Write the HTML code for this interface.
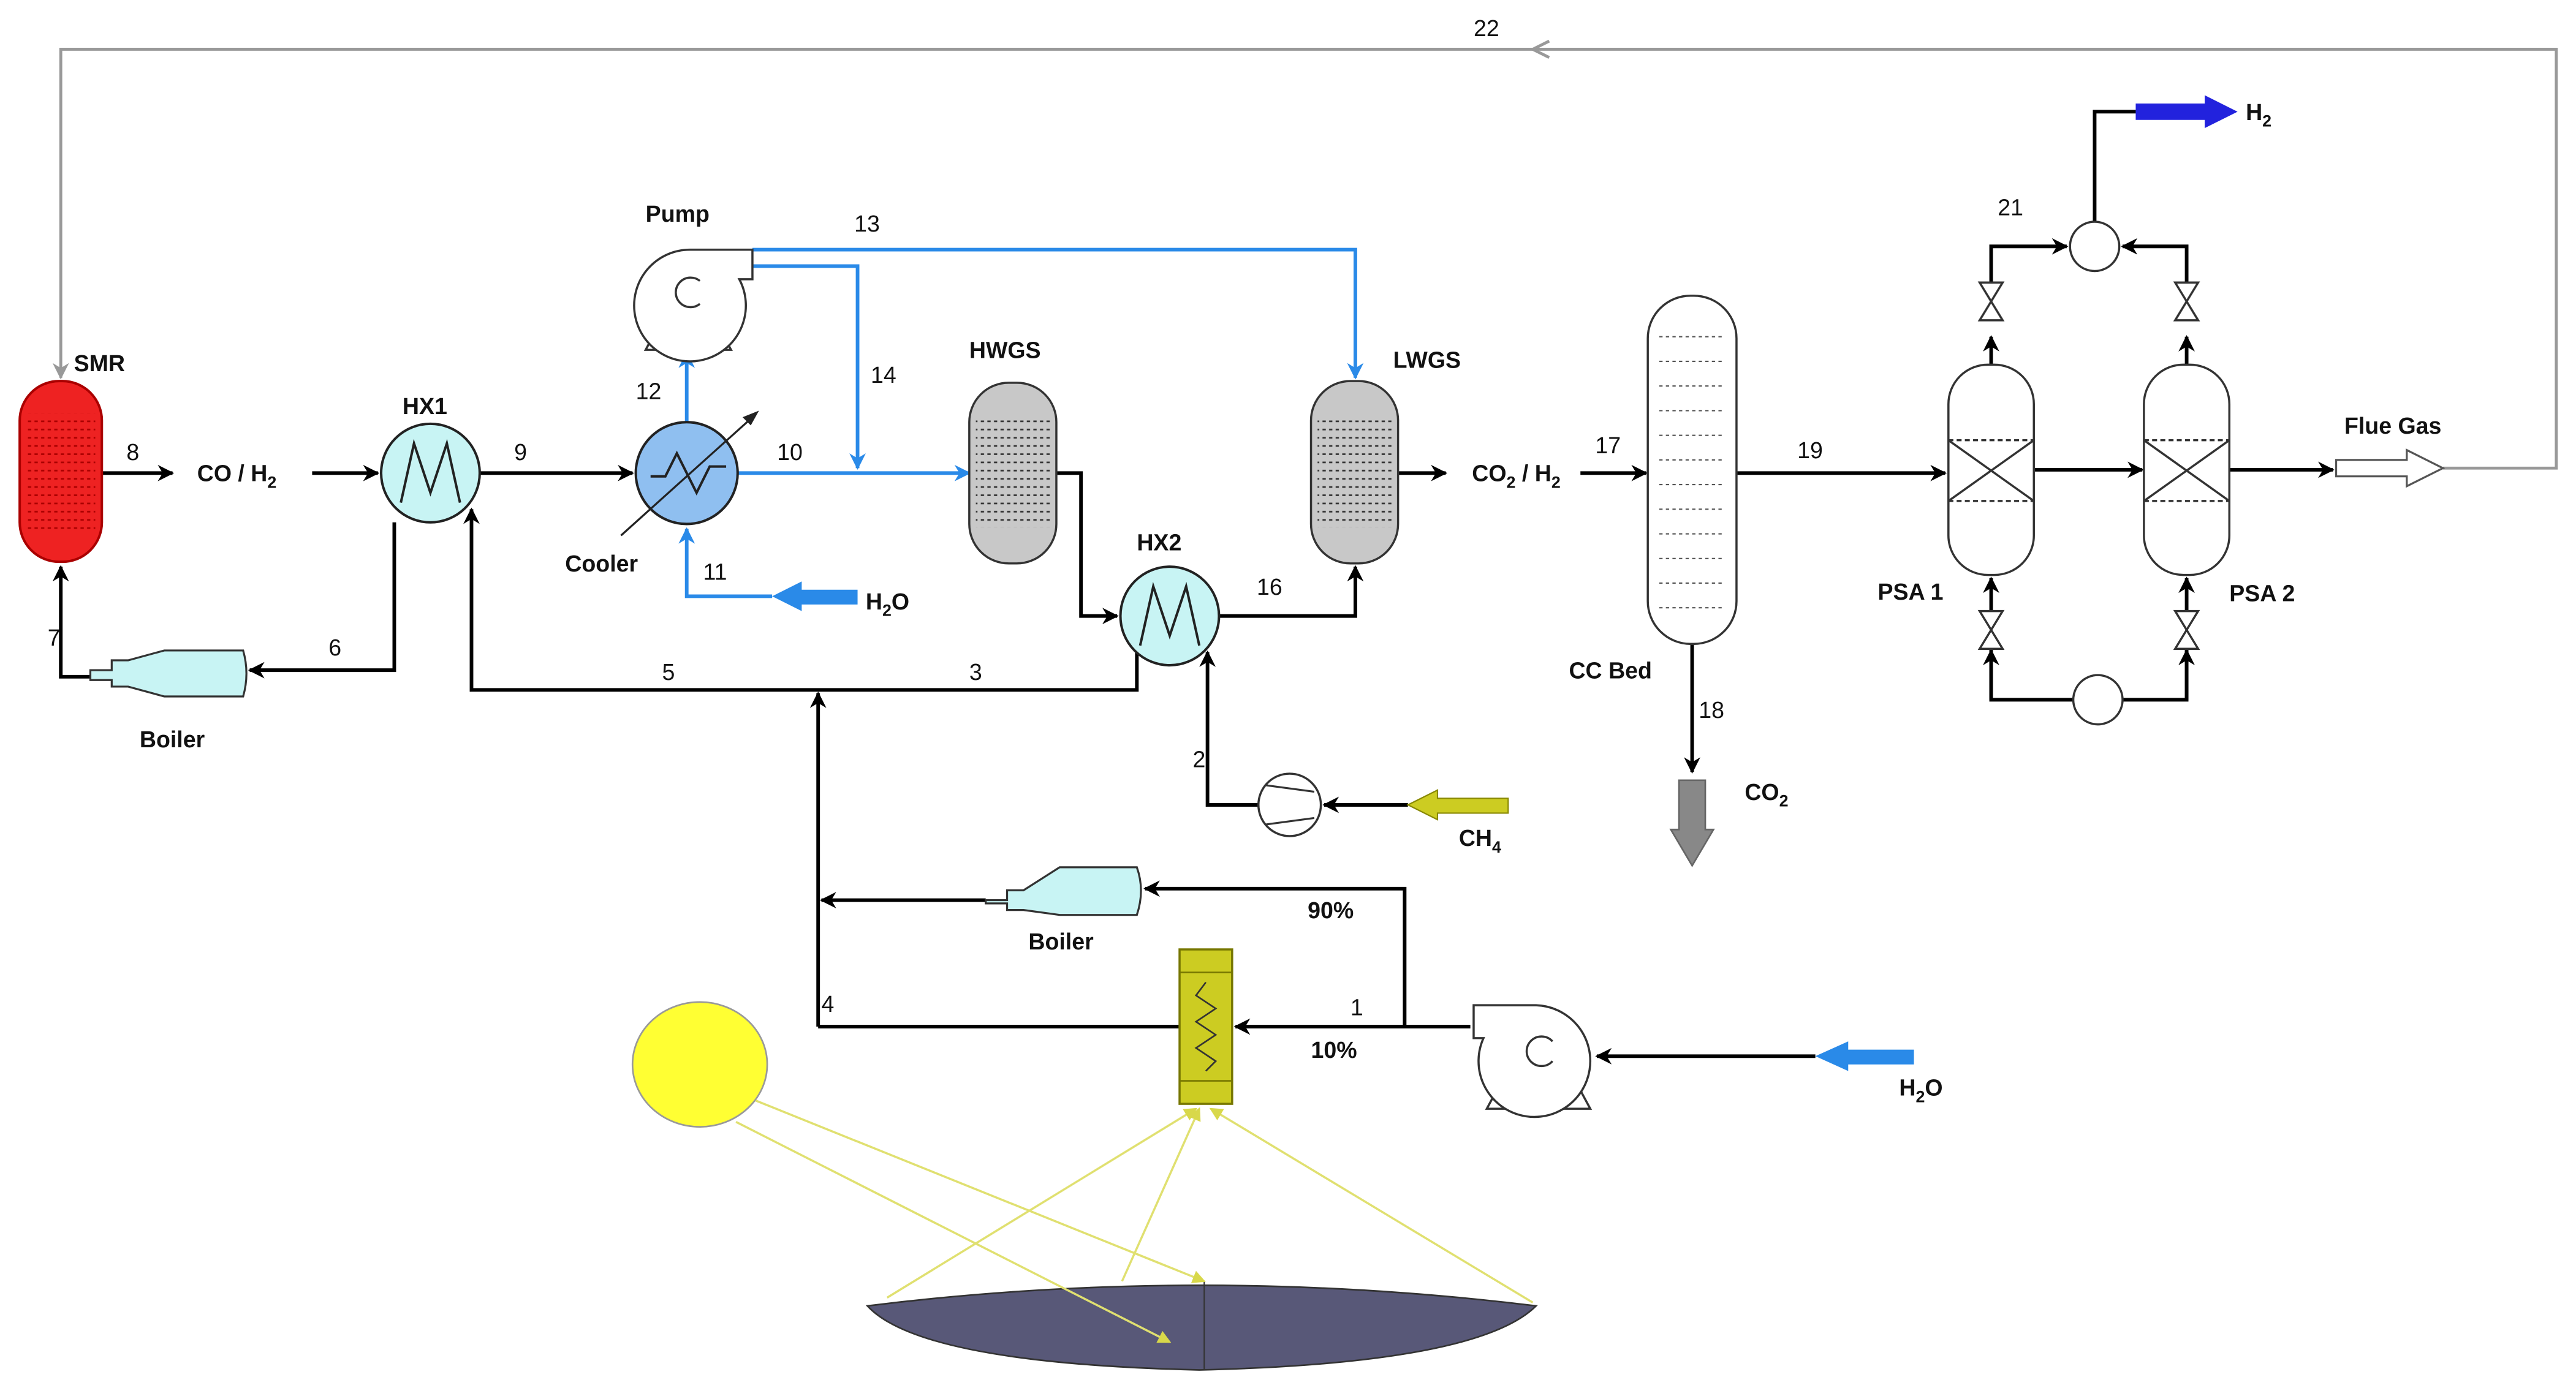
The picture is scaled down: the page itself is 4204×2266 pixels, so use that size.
<!DOCTYPE html>
<html><head><meta charset="utf-8"><style>
html,body{margin:0;padding:0;background:#fff;}
svg{display:block;}
text{font-family:"Liberation Sans",sans-serif;font-size:14px;fill:#111;}
.b{font-weight:bold;}
</style></head><body>
<svg width="4204" height="2266" viewBox="0 0 1568 845" preserveAspectRatio="none" xmlns="http://www.w3.org/2000/svg">
<defs>
<marker id="ak" markerWidth="10" markerHeight="10" refX="9" refY="5" orient="auto" markerUnits="userSpaceOnUse"><path d="M0,0 L10,5 L0,10 L3,5 z" fill="#000"/></marker>
<marker id="ab" markerWidth="10" markerHeight="10" refX="9" refY="5" orient="auto" markerUnits="userSpaceOnUse"><path d="M0,0 L10,5 L0,10 L3,5 z" fill="#2a8ae8"/></marker>
<marker id="ag" markerWidth="10" markerHeight="10" refX="9" refY="5" orient="auto" markerUnits="userSpaceOnUse"><path d="M0,0 L10,5 L0,10 L3,5 z" fill="#999"/></marker>
<marker id="ay" markerWidth="8" markerHeight="8" refX="7" refY="4" orient="auto" markerUnits="userSpaceOnUse"><path d="M0,0 L8,4 L0,8 z" fill="#d8d84a"/></marker>
<pattern id="dots" width="4" height="5" patternUnits="userSpaceOnUse"><rect x="1" y="1" width="2" height="1" fill="#333"/></pattern>
<pattern id="dotsr" width="4" height="5" patternUnits="userSpaceOnUse"><rect x="1" y="1" width="2" height="1" fill="#a00"/></pattern>
</defs>
<g fill="none" stroke-width="2.2">
<path d="M1487,285 H1556 V30 H37 V230" stroke="#999" stroke-width="1.8" marker-end="url(#ag)"/>
<path d="M943,25 L933,30 L943,35" stroke="#999" stroke-width="1.8"/>
<path d="M62,288 H105" stroke="#000" marker-end="url(#ak)"/>
<path d="M190,288 H230" stroke="#000" marker-end="url(#ak)"/>
<path d="M292,288 H385" stroke="#000" marker-end="url(#ak)"/>
<path d="M643,288 H658 V375 H680" stroke="#000" marker-end="url(#ak)"/>
<path d="M742,375 H825 V345" stroke="#000" marker-end="url(#ak)"/>
<path d="M851,288 H880" stroke="#000" marker-end="url(#ak)"/>
<path d="M962,288 H1002" stroke="#000" marker-end="url(#ak)"/>
<path d="M1057,288 H1184" stroke="#000" marker-end="url(#ak)"/>
<path d="M1238,286 H1304" stroke="#000" marker-end="url(#ak)"/>
<path d="M1357,286 H1420" stroke="#000" marker-end="url(#ak)"/>
<path d="M1030,392 V470" stroke="#000" marker-end="url(#ak)"/>
<path d="M240,318 V408 H152" stroke="#000" marker-end="url(#ak)"/>
<path d="M56,412 H37 V345" stroke="#000" marker-end="url(#ak)"/>
<path d="M692,392 V420 H287 V310" stroke="#000" marker-end="url(#ak)"/>
<path d="M498,625 V422" stroke="#000" marker-end="url(#ak)"/>
<path d="M600,548 H500" stroke="#000" marker-end="url(#ak)"/>
<path d="M855,625 V541 H697" stroke="#000" marker-end="url(#ak)"/>
<path d="M895,625 H752" stroke="#000" marker-end="url(#ak)"/>
<path d="M718,625 H498" stroke="#000"/>
<path d="M1105,643 H972" stroke="#000" marker-end="url(#ak)"/>
<path d="M857,490 H806" stroke="#000" marker-end="url(#ak)"/>
<path d="M766,490 H735 V397" stroke="#000" marker-end="url(#ak)"/>
<path d="M1212,222 V205" stroke="#000" marker-end="url(#ak)"/>
<path d="M1331,222 V205" stroke="#000" marker-end="url(#ak)"/>
<path d="M1212,172 V150 H1258" stroke="#000" marker-end="url(#ak)"/>
<path d="M1331,172 V150 H1292" stroke="#000" marker-end="url(#ak)"/>
<path d="M1275,135 V68 H1300" stroke="#000"/>
<path d="M1212,426 V396" stroke="#000" marker-end="url(#ak)"/>
<path d="M1331,426 V396" stroke="#000" marker-end="url(#ak)"/>
<path d="M1212,372 V352" stroke="#000" marker-end="url(#ak)"/>
<path d="M1331,372 V352" stroke="#000" marker-end="url(#ak)"/>
<path d="M1212,395 V426 H1331 V395" stroke="#000"/>
<path d="M449,288 H590" stroke="#2a8ae8" marker-end="url(#ab)"/>
<path d="M418,257 V215" stroke="#2a8ae8" marker-end="url(#ab)"/>
<path d="M458,152 H825 V230" stroke="#2a8ae8" marker-end="url(#ab)"/>
<path d="M458,162 H522 V285" stroke="#2a8ae8" marker-end="url(#ab)"/>
<path d="M470,363 H418 V322" stroke="#2a8ae8" marker-end="url(#ab)"/>
</g>
<path d="M470,363 L488,354 V359 H522 V368 H488 V372 Z" fill="#2a8ae8"/>
<path d="M1105,643 L1125,634 V639 H1165 V648 H1125 V652 Z" fill="#2a8ae8"/>
<path d="M857,490 L875,481 V486 H918 V495 H875 V499 Z" fill="#cccc22" stroke="#888800" stroke-width="0.8"/>
<path d="M1300,63 H1342 V58 L1362,68 L1342,78 V73 H1300 Z" fill="#2222dd"/>
<path d="M1422,280 H1465 V274 L1487,285 L1465,296 V290 H1422 Z" fill="#fff" stroke="#555" stroke-width="1.2"/>
<path d="M1022,475 H1038 V505 H1043 L1030,527 L1017,505 H1022 Z" fill="#888" stroke="#666"/>
<rect x="12" y="232" width="50" height="110" rx="24" fill="#ee2222" stroke="#a00" stroke-width="1.5"/>
<rect x="16" y="252" width="42" height="70" fill="url(#dotsr)"/>
<circle cx="262" cy="288" r="30" fill="#c8f4f4" stroke="#222" stroke-width="1.5"/>
<path d="M244,306 L252,270 L262,300 L272,270 L280,306" fill="none" stroke="#222" stroke-width="1.5"/>
<circle cx="712" cy="375" r="30" fill="#c8f4f4" stroke="#222" stroke-width="1.5"/>
<path d="M694,393 L702,357 L712,387 L722,357 L730,393" fill="none" stroke="#222" stroke-width="1.5"/>
<circle cx="418" cy="288" r="31" fill="#8fbff0" stroke="#222" stroke-width="1.5"/>
<path d="M396,290 H405 L412,276 L424,300 L432,284 H442" fill="none" stroke="#222" stroke-width="1.5"/>
<path d="M378,326 L458,254" stroke="#222" stroke-width="1.2"/>
<path d="M462,250 L452,254 L457,259 Z" fill="#222"/>
<g stroke="#333" stroke-width="1.3" fill="#fff">
<path d="M400,200 L393,213 H445 L438,200 Z"/>
<path d="M458,152 V170 H450 A34,34 0 1 1 420,152 Z"/>
<path d="M426,171 A9,9 0 1 0 426,185" fill="none"/>
</g>
<rect x="590" y="233" width="53" height="110" rx="24" fill="#c8c8c8" stroke="#333" stroke-width="1.3"/>
<rect x="594" y="255" width="45" height="66" fill="url(#dots)"/>
<rect x="798" y="232" width="53" height="111" rx="24" fill="#c8c8c8" stroke="#333" stroke-width="1.3"/>
<rect x="802" y="254" width="45" height="67" fill="url(#dots)"/>
<rect x="1003" y="180" width="54" height="212" rx="26" fill="#fff" stroke="#333" stroke-width="1.3"/>
<g stroke="#555" stroke-width="0.8" stroke-dasharray="2,2" fill="none">
<path d="M1010,205 H1050 M1010,220 H1050 M1010,235 H1050 M1010,250 H1050 M1010,265 H1050 M1010,280 H1050 M1010,295 H1050 M1010,310 H1050 M1010,325 H1050 M1010,340 H1050 M1010,355 H1050 M1010,370 H1050"/>
</g>
<g stroke="#333" stroke-width="1.3" fill="#fff">
<rect x="1186" y="222" width="52" height="128" rx="24"/>
<rect x="1305" y="222" width="52" height="128" rx="24"/>
<path d="M1186,268 H1238 M1186,305 H1238 M1305,268 H1357 M1305,305 H1357" stroke-dasharray="3,2"/>
<path d="M1186,268 L1238,305 M1238,268 L1186,305 M1305,268 L1357,305 M1357,268 L1305,305"/>
<circle cx="1275" cy="150" r="15"/>
<circle cx="1277" cy="426" r="15"/>
<path d="M1205,172 H1219 L1205,195 H1219 Z M1324,172 H1338 L1324,195 H1338 Z"/>
<path d="M1205,372 H1219 L1205,395 H1219 Z M1324,372 H1338 L1324,395 H1338 Z"/>
</g>
<g stroke="#333" stroke-width="1.2" fill="#c8f4f4">
<path d="M55,408 H68 V402 H78 L100,396 H148 Q152,410 148,424 H100 L78,418 H68 V414 H55 Z"/>
<path d="M600,548 H613 V542 H623 L645,528 H692 Q697,542 692,557 H645 L623,554 H613 V550 H600 Z"/>
</g>
<circle cx="785" cy="490" r="19" fill="#fff" stroke="#333" stroke-width="1.3"/>
<path d="M770,478 L800,482 M770,502 L800,498" stroke="#333" stroke-width="1.2"/>
<g stroke="#333" stroke-width="1.3" fill="#fff">
<path d="M912,662 L905,675 H968 L961,662 Z"/>
<path d="M897,612 V632 H903 A34,34 0 1 0 935,612 Z"/>
<path d="M945,634 A9,9 0 1 0 945,646" fill="none"/>
</g>
<rect x="718" y="578" width="32" height="94" fill="#cccc22" stroke="#777700" stroke-width="1.3"/>
<path d="M718,592 H750 M718,658 H750" stroke="#777700"/>
<path d="M734,598 L728,606 L740,614 L728,622 L740,630 L728,638 L740,646 L734,652" fill="none" stroke="#333"/>
<ellipse cx="426" cy="648" rx="41" ry="38" fill="#ffff33" stroke="#999" stroke-width="1"/>
<path d="M528,795 Q730,770 935,795 Q900,830 730,834 Q560,830 528,795 Z" fill="#585878" stroke="#333" stroke-width="1"/>
<path d="M733,780 V834" stroke="#333" stroke-width="0.8"/>
<g stroke="#e0e070" stroke-width="1.3" fill="none">
<path d="M460,670 L733,780" marker-end="url(#ay)"/>
<path d="M448,683 L712,817" marker-end="url(#ay)"/>
<path d="M540,790 L728,675" marker-end="url(#ay)"/>
<path d="M683,780 L730,675" marker-end="url(#ay)"/>
<path d="M933,793 L737,675" marker-end="url(#ay)"/>
</g>
<g>
<text x="897" y="22">22</text>
<text x="45" y="226" class="b">SMR</text>
<text x="77" y="280">8</text>
<text x="120" y="293" class="b">CO / H<tspan font-size="10" dy="4">2</tspan></text>
<text x="245" y="252" class="b">HX1</text>
<text x="313" y="280">9</text>
<text x="393" y="135" class="b">Pump</text>
<text x="520" y="141">13</text>
<text x="530" y="233">14</text>
<text x="387" y="243">12</text>
<text x="473" y="280">10</text>
<text x="344" y="348" class="b">Cooler</text>
<text x="428" y="353">11</text>
<text x="527" y="371" class="b">H<tspan font-size="10" dy="4">2</tspan><tspan dy="-4">O</tspan></text>
<text x="590" y="218" class="b">HWGS</text>
<text x="692" y="335" class="b">HX2</text>
<text x="765" y="362">16</text>
<text x="848" y="224" class="b">LWGS</text>
<text x="896" y="293" class="b">CO<tspan font-size="10" dy="4">2</tspan><tspan dy="-4"> / H</tspan><tspan font-size="10" dy="4">2</tspan></text>
<text x="971" y="276">17</text>
<text x="1094" y="279">19</text>
<text x="955" y="413" class="b">CC Bed</text>
<text x="1034" y="437">18</text>
<text x="1062" y="487" class="b">CO<tspan font-size="10" dy="4">2</tspan></text>
<text x="1216" y="131">21</text>
<text x="1367" y="73" class="b">H<tspan font-size="10" dy="4">2</tspan></text>
<text x="1427" y="264" class="b">Flue Gas</text>
<text x="1143" y="365" class="b">PSA 1</text>
<text x="1357" y="366" class="b">PSA 2</text>
<text x="200" y="399">6</text>
<text x="29" y="393">7</text>
<text x="85" y="455" class="b">Boiler</text>
<text x="403" y="414">5</text>
<text x="590" y="414">3</text>
<text x="726" y="467">2</text>
<text x="888" y="515" class="b">CH<tspan font-size="10" dy="4">4</tspan></text>
<text x="796" y="559" class="b">90%</text>
<text x="626" y="578" class="b">Boiler</text>
<text x="822" y="618">1</text>
<text x="798" y="644" class="b">10%</text>
<text x="500" y="616">4</text>
<text x="1156" y="667" class="b">H<tspan font-size="10" dy="4">2</tspan><tspan dy="-4">O</tspan></text>
</g>
</svg>
</body></html>
